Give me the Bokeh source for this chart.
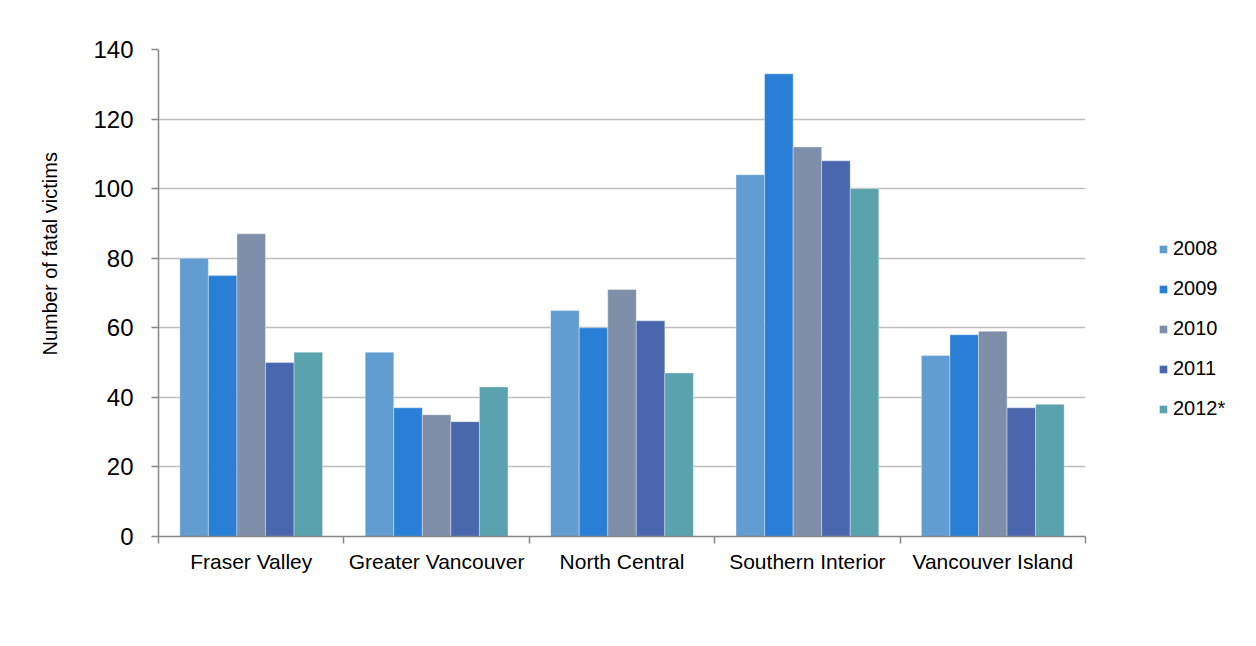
from bokeh.plotting import figure
from bokeh.models import (ColumnDataSource, FixedTicker, Legend, LegendItem,
                          Range1d, Title)
from bokeh.embed import file_html
from bokeh.resources import INLINE

# Fatal victims by health service region and year
regions = ["Fraser Valley", "Greater Vancouver", "North Central",
           "Southern Interior", "Vancouver Island"]
years = ["2008", "2009", "2010", "2011", "2012*"]
v2008 = [80, 53, 65, 104, 52]
v2009 = [75, 37, 60, 133, 58]
v2010 = [87, 35, 71, 112, 59]
v2011 = [50, 33, 62, 108, 37]
v2012 = [53, 43, 47, 100, 38]
series = [v2008, v2009, v2010, v2011, v2012]
colors = ["#629dd1", "#297fd5", "#7f8fa9", "#4a66ac", "#5aa2ae"]
y_ticks = [0, 20, 40, 60, 80, 100, 120, 140]

FONT = "Liberation Sans"
BAR_W = 0.154  # width of one bar, in category units

p = figure(frame_width=927, frame_height=487, output_backend="svg",
           toolbar_location=None,
           x_range=Range1d(0, 5), y_range=Range1d(0, 140),
           min_border_left=158, min_border_right=171,
           min_border_top=49, min_border_bottom=110)
p.outline_line_color = None
p.background_fill_color = "white"
p.border_fill_color = "white"

items = []
for j, (name, vals, col) in enumerate(zip(years, series, colors)):
    xs = [i + 0.5 + (j - 2) * BAR_W for i in range(len(regions))]
    src = ColumnDataSource(dict(x=xs, top=vals))
    r = p.vbar(x="x", top="top", bottom=0, width=BAR_W, source=src,
               fill_color=col, line_color="white", line_width=0.6, line_alpha=0.6)
    items.append(LegendItem(label=name, renderers=[r]))

# y axis
p.yaxis.ticker = FixedTicker(ticks=y_ticks)
p.yaxis.major_label_text_font = FONT
p.yaxis.major_label_text_font_size = "24px"
p.yaxis.major_label_text_color = "black"
p.yaxis.axis_line_color = "#878787"
p.yaxis.axis_line_width = 1.5
p.yaxis.major_tick_line_color = "#878787"
p.yaxis.major_tick_line_width = 1.5
p.yaxis.major_tick_out = 7
p.yaxis.major_tick_in = 0
p.yaxis.minor_tick_line_color = None
p.yaxis.major_label_standoff = 18

# x axis: labels centred under each region, ticks on region boundaries
p.xaxis.ticker = FixedTicker(ticks=[i + 0.5 for i in range(len(regions))],
                             minor_ticks=list(range(len(regions) + 1)))
p.xaxis.major_label_overrides = {i + 0.5: name for i, name in enumerate(regions)}
p.xaxis.major_label_text_font = FONT
p.xaxis.major_label_text_font_size = "21px"
p.xaxis.major_label_text_color = "black"
p.xaxis.axis_line_color = "#878787"
p.xaxis.axis_line_width = 1.5
p.xaxis.major_tick_line_color = None
p.xaxis.major_tick_out = 0
p.xaxis.major_tick_in = 0
p.xaxis.minor_tick_line_color = "#878787"
p.xaxis.minor_tick_line_width = 1.5
p.xaxis.minor_tick_out = 7
p.xaxis.minor_tick_in = 0
p.xaxis.major_label_standoff = 6

p.xgrid.grid_line_color = None
p.ygrid.ticker = FixedTicker(ticks=y_ticks)
p.ygrid.grid_line_color = "#bebebe"
p.ygrid.grid_line_width = 1.5

# vertical axis title
p.add_layout(Title(text="Number of fatal victims", align="left", offset=181,
                   standoff=60, text_font=FONT, text_font_size="20px",
                   text_font_style="normal", text_color="black"), "left")

legend = Legend(items=items, location=(73, 116), orientation="vertical",
                glyph_width=10, glyph_height=10, label_standoff=5,
                label_text_font=FONT, label_text_font_size="20px",
                label_text_color="black", spacing=17, padding=0, margin=0,
                border_line_color=None, background_fill_color=None)
p.add_layout(legend, "right")

open("out.html", "w").write(file_html(p, INLINE))
